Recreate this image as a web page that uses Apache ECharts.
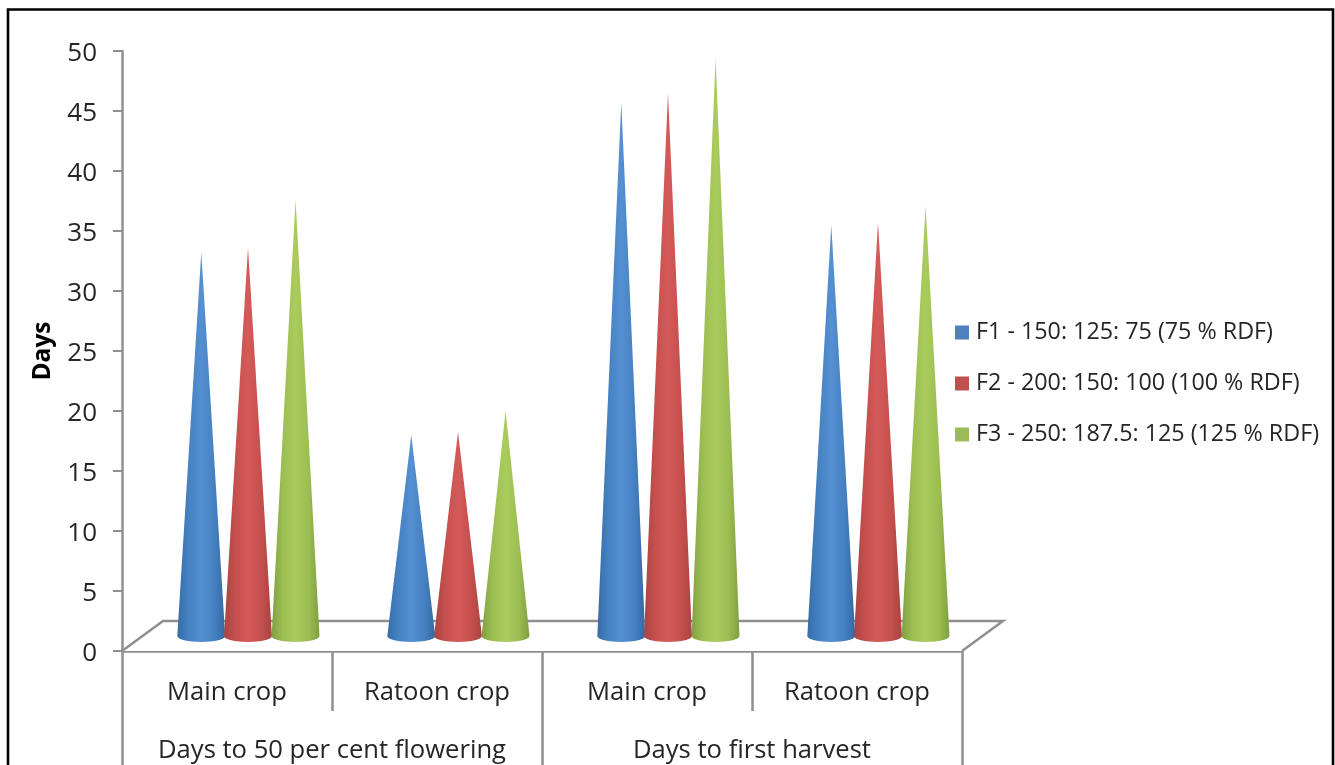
<!DOCTYPE html>
<html><head><meta charset="utf-8">
<style>html,body{margin:0;padding:0;background:#fff}#c{width:1335px;height:765px}</style>
<script src="https://cdn.jsdelivr.net/npm/echarts@6/dist/echarts.min.js"></script>
</head><body><div id="c"></div>
<script>
const categories = ['Main crop','Ratoon crop','Main crop','Ratoon crop'];
const groups = ['Days to 50 per cent flowering','Days to first harvest'];
const f1 = [33.2, 18.0, 45.7, 35.5];
const f2 = [33.6, 18.25, 46.5, 35.7];
const f3 = [37.6, 20.0, 49.4, 37.1];
const seriesNames = ['F1 - 150: 125: 75 (75 % RDF)','F2 - 200: 150: 100 (100 % RDF)','F3 - 250: 187.5: 125 (125 % RDF)'];
const yTicks = {min:0,max:50,interval:5};
const FONT = '"Open Sans", Lato, sans-serif';
const AXIS = '#8f8f8f', TEXT = '#262626';
const palette = [
  {base:'#4f81bd', stops:['#356da8','#4580c0','#5490d2','#4580c0','#3468a2']},
  {base:'#c0504d', stops:['#a84442','#c44f4d','#d45a58','#c44f4d','#a84442']},
  {base:'#9bbb59', stops:['#7f9f40','#9cbd52','#aacc5c','#9cbd52','#7f9f40']}
];
const chart = echarts.init(document.getElementById('c'), null, {renderer:'canvas'});

function cone(si){
  return function(params, api){
    const band = api.size([1,0])[0];
    const zero = api.coord([api.value(0), 0]);
    const tip = api.coord([api.value(0), api.value(1)]);
    const cx = zero[0] + band*0.1 + (si-1)*band*0.2225 + (si===2?band*0.004:0);
    const hw = band*0.114;
    const by = zero[1] - 15;
    const ry = 6;
    const grad = new echarts.graphic.LinearGradient(0,0,1,0,
      palette[si].stops.map((c,i)=>({offset:[0,0.22,0.5,0.78,1][i],color:c})));
    return {type:'path',
      shape:{pathData:`M${cx} ${tip[1]} L${cx+hw} ${by} A${hw} ${ry} 0 0 1 ${cx-hw} ${by} Z`},
      style:{fill:grad}, z2:si+5};
  };
}
function floor(params, api){
  const g = params.coordSys, d = 41, h = 30;
  const L=g.x, R=g.x+g.width, B=g.y+g.height;
  return {type:'polyline',
    shape:{points:[[L,B],[L+d,B-h],[R+d,B-h],[R,B]]},
    style:{fill:'#fff',stroke:AXIS,lineWidth:2.5}, z2:0, silent:true};
}
const coneSeries = [f1,f2,f3].map((vals,si)=>({
  name:seriesNames[si], type:'custom', coordinateSystem:'cartesian2d',
  xAxisIndex:0,yAxisIndex:0,
  itemStyle:{color:palette[si].base},
  renderItem:cone(si), clip:false, z:5,
  encode:{x:0,y:1},
  data:vals.map((v,i)=>[i,v])
}));
chart.setOption({
  animation:false, backgroundColor:'#fff',
  graphic:[{type:'rect',silent:true,z:-1,
    shape:{x:8,y:9.5,width:1325,height:800},
    style:{fill:'none',stroke:'#000',lineWidth:2.6}}],
  grid:{left:122,top:51,width:840,height:600,containLabel:false},
  legend:{orient:'vertical',left:950,top:316,itemWidth:14,itemHeight:14,itemGap:28,
    icon:'rect',data:seriesNames,selectedMode:false,
    textStyle:{fontFamily:FONT,fontSize:23.3,color:TEXT,padding:[0,0,0,2],lineHeight:22}},
  xAxis:[
   {type:'category',data:categories,position:'bottom',
    axisLine:{show:true,lineStyle:{color:AXIS,width:2.5}},
    axisTick:{show:true,alignWithLabel:false,interval:0,length:60,lineStyle:{color:AXIS,width:2.5}},
    axisLabel:{interval:0,margin:28.5,fontFamily:FONT,fontSize:25.6,color:TEXT}},
   {type:'category',data:groups,position:'bottom',
    axisLine:{show:false},
    axisTick:{show:true,interval:0,length:120,lineStyle:{color:AXIS,width:2.5}},
    axisLabel:{interval:0,margin:86.5,fontFamily:FONT,fontSize:25.6,color:TEXT}}
  ],
  yAxis:{type:'value',min:yTicks.min,max:yTicks.max,interval:yTicks.interval,
    name:'Days',nameLocation:'middle',nameGap:66,nameRotate:90,
    nameTextStyle:{fontFamily:FONT,fontWeight:'bold',fontSize:24.5,color:'#000'},
    axisLine:{show:true,lineStyle:{color:AXIS,width:2.5}},
    axisTick:{show:true,length:9,lineStyle:{color:AXIS,width:2}},
    splitLine:{show:false},
    axisLabel:{margin:25,formatter:'{n|{value}}',
      rich:{n:{padding:[5,0,0,0],fontFamily:FONT,fontSize:26,color:TEXT}}}},
  series:[
    {type:'custom',coordinateSystem:'cartesian2d',renderItem:floor,data:[[0,0]],z:1,silent:true,clip:false,tooltip:{show:false}},
    ...coneSeries
  ]
});
</script></body></html>
